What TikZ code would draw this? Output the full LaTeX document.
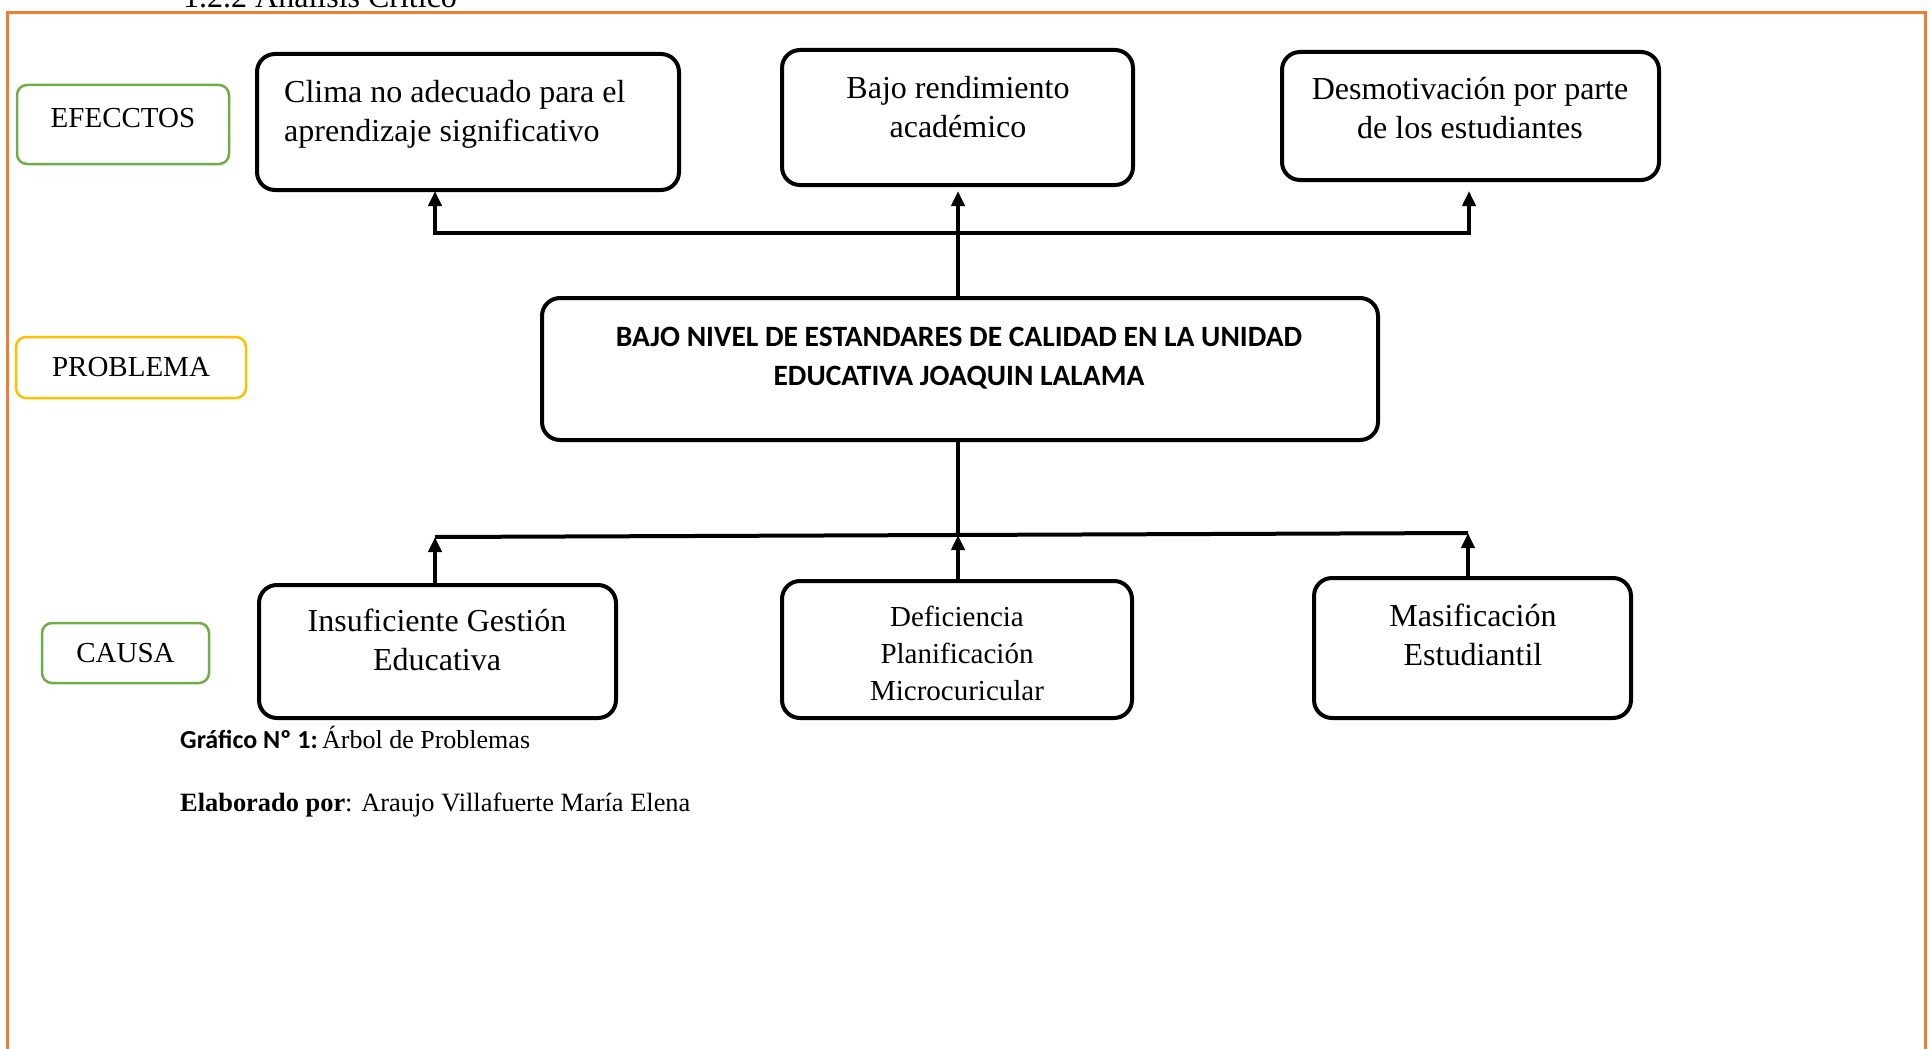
\documentclass[tikz,border=0pt]{standalone}
\usepackage{fontspec}
\setmainfont{Liberation Serif}
\newfontfamily\carlito{Carlito}
\usetikzlibrary{arrows.meta,calc}
\definecolor{frameorange}{HTML}{ED7D31}
\definecolor{lblgreen}{HTML}{70AD47}
\definecolor{lblgold}{HTML}{FFC000}
\begin{document}
\begin{tikzpicture}[x=1pt,y=-1pt,
 bx/.style={draw=black,line width=4pt,rounded corners=18pt,inner sep=0pt},
 lbl/.style={rounded corners=10pt,line width=2.5pt,inner sep=0pt,font=\fontsize{29}{34}\selectfont},
 tx/.style={inner sep=0pt,font=\fontsize{32}{39}\selectfont,align=center},
 txs/.style={inner sep=0pt,font=\fontsize{29}{37}\selectfont,align=center},
 conn/.style={line width=4pt},
 arr/.style={line width=4pt,-{Triangle[length=15pt,width=13pt]}},
]
\useasboundingbox (0,0) rectangle (1931,1049);
\clip (0,0) rectangle (1931,1049);
% frame and title
\node[inner sep=0pt,anchor=base west,font=\fontsize{32}{38}\selectfont] (title) at (183,8) {1.2.2 Análisis Crítico};
\draw[frameorange,line width=3pt] (7,1080) -- (7,13) -- (1925,13) -- (1925,1080);
% labels
\node[lbl,draw=lblgreen,minimum width=212pt,minimum height=79pt,text depth=14pt] (lefe) at (123,124.5) {EFECCTOS};
\node[lbl,draw=lblgold,minimum width=230pt,minimum height=61pt] (lprob) at (131,367.5) {PROBLEMA};
\node[lbl,draw=lblgreen,minimum width=167pt,minimum height=60pt] (lcau) at (125.5,653) {CAUSA};
% effect boxes
\node[bx,minimum width=422pt,minimum height=136pt] (e1) at (468,122) {};
\node[bx,minimum width=351pt,minimum height=135pt] (e2) at (957.5,117.5) {};
\node[bx,minimum width=377pt,minimum height=128pt] (e3) at (1470.5,116) {};
\node[tx,align=left,anchor=north west] (e1t) at (284,80) {Clima no adecuado para el\\aprendizaje significativo};
\node[tx,anchor=north] (e2t) at (958,76) {Bajo rendimiento\\académico};
\node[tx,anchor=north] (e3t) at (1470,77) {Desmotivación por parte\\de los estudiantes};
% problem
\node[bx,minimum width=836pt,minimum height=142pt] (p) at (960,369) {};
\node[inner sep=0pt,anchor=north,align=center,font=\carlito\bfseries\fontsize{29.5}{39}\selectfont] (pt) at (959,327) {BAJO NIVEL DE ESTANDARES DE CALIDAD EN LA UNIDAD\\EDUCATIVA JOAQUIN LALAMA};
% causes
\node[bx,minimum width=357pt,minimum height=133pt] (c1) at (437.5,651.5) {};
\node[bx,minimum width=350pt,minimum height=137pt] (c2) at (957,649.5) {};
\node[bx,minimum width=317pt,minimum height=140pt] (c3) at (1472.5,648) {};
\node[tx,anchor=north] (c1t) at (437,609) {Insuficiente Gestión\\Educativa};
\node[txs,anchor=north] (c2t) at (957,606) {Deficiencia\\Planificación\\Microcuricular};
\node[tx,anchor=north] (c3t) at (1473,604) {Masificación\\Estudiantil};
% connector coordinates
\coordinate (a1) at (435,191);
\coordinate (a2) at (958,191);
\coordinate (a3) at (1469,191);
\coordinate (jt) at (958,233);
\coordinate (b1) at (435,537);
\coordinate (b2) at (958,535);
\coordinate (b3) at (1468,533);
% top connectors
\draw[arr] (p.north -| a2) -- (a2);
\draw[arr] (jt) -| (a1);
\draw[arr] (jt) -| (a3);
% bottom connectors
\draw[conn] (p.south -| b2) -- (b2);
\draw[conn] (b1) -- (b3);
\draw[arr] (c1.north -| b1) -- (b1);
\draw[arr] (c2.north -| b2) -- (b2);
\draw[arr] (c3.north -| b3) -- (b3);
% captions
\node[inner sep=0pt,anchor=base west,font=\fontsize{26}{30}\selectfont] (cap1) at (180,748) {{\carlito\bfseries Gráfico Nº 1:}\,Árbol de Problemas};
\node[inner sep=0pt,anchor=base west,font=\fontsize{26.4}{30}\selectfont] (cap2) at (180,811) {\textbf{Elaborado por}: Araujo Villafuerte María Elena};
\end{tikzpicture}
\end{document}
